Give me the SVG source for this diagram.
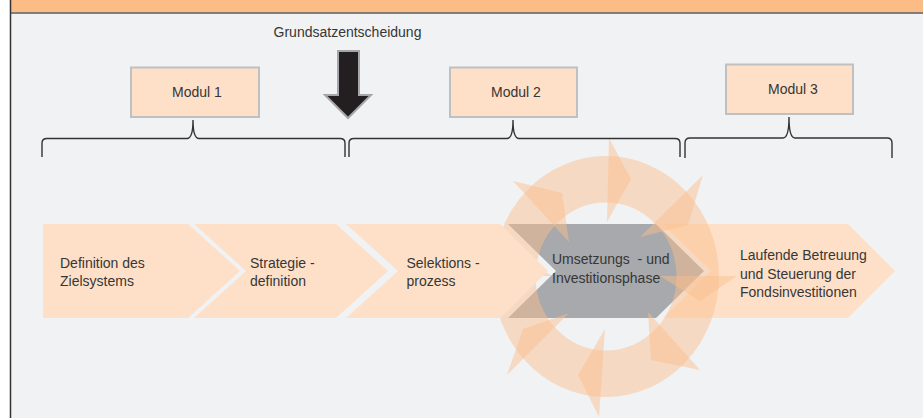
<svg xmlns="http://www.w3.org/2000/svg" width="923" height="418" viewBox="0 0 923 418">
  <defs>
    <style>
      .t { font-family: "Liberation Sans", Arial, sans-serif; font-size: 14px; fill: #363636; white-space: pre; }
      .box { fill: #FEE0C8; stroke: #BFC0C2; stroke-width: 2; }
      .chev { fill: #FEE0C8; }
      .ring { fill: #FBBE8C; fill-opacity: 0.48; }
      .brace { fill: none; stroke: #333333; stroke-width: 1.4; }
    </style>
  </defs>

  <rect x="0" y="0" width="923" height="418" fill="#FFFFFF"/>
  <rect x="10" y="13" width="913" height="405" fill="#F1F2F4"/>
  <rect x="10" y="0" width="913" height="12.5" fill="#FBBC85"/>
  <line x1="10" y1="13" x2="923" y2="13" stroke="#5A5A5A" stroke-width="1.5"/>
  <line x1="10.5" y1="0" x2="10.5" y2="418" stroke="#333333" stroke-width="1.5"/>

  <g id="chevrons-back">
    <polygon id="step4" fill="#A7A9AC" points="508,224 656,224 704,271 656,318 508,318 556,271"/>
    <polygon id="step5" class="chev" points="663,224 848,224 895,271 848,318 663,318 711,271"/>
  </g>

  <g id="cycle">
    <path class="ring" fill-rule="evenodd" d="M493,276.5 a113,120.5 0 1,0 226,0 a113,120.5 0 1,0 -226,0 Z M535.5,276.5 a70.5,74 0 1,0 141,0 a70.5,74 0 1,0 -141,0 Z"/>
    <polygon class="ring" points="513,181 562,193 569,242"/>
    <polygon class="ring" points="609,138 631,179 607,222"/>
    <polygon class="ring" points="703,175 688,225 640,237"/>
    <polygon class="ring" points="737,276 700,301 660,276"/>
    <polygon class="ring" points="700,370 651,360 648,312"/>
    <polygon class="ring" points="599,417 578,375 605,329"/>
    <polygon class="ring" points="507,375 523,329 569,313"/>
    <polygon class="ring" points="471,276 512,251 552,276"/>
  </g>

  <g id="chevrons-front">
    <polygon id="step1" class="chev" points="43,224 188,224 240,271 188,318 43,318"/>
    <polygon id="step2" class="chev" points="194,224 336,224 388,271 336,318 194,318 246,271"/>
    <polygon id="step3" class="chev" points="346,224 500,224 548,271 500,318 346,318 398,271"/>
  </g>

  <g id="connectors">
    <path class="brace" d="M42,157 L42,143 Q42,138.5 47,138.5 L187,138.5 Q193,138.5 193,120 Q193,138.5 199,138.5 L340,138.5 Q345,138.5 345,143 L345,157"/>
    <path class="brace" d="M349,157 L349,143 Q349,138.5 354,138.5 L507,138.5 Q513,138.5 513,120 Q513,138.5 519,138.5 L675,138.5 Q680,138.5 680,143 L680,157"/>
    <path class="brace" d="M685,158 L685,143 Q685,138 690,138 L783,138 Q789,138 789,117 Q789,138 795,138 L887,138 Q892,138 892,143 L892,158"/>
  </g>

  <g id="grundsatz">
    <text class="t" x="347.5" y="37" text-anchor="middle">Grundsatzentscheidung</text>
    <polygon fill="#231F20" stroke="#A4A6A9" stroke-width="2" stroke-linejoin="miter" points="338,51 359,51 359,95 371,95 348,118 325,95 338,95"/>
  </g>

  <g id="modul1">
    <rect class="box" x="131" y="67.5" width="128" height="49.5"/>
    <text class="t" x="197" y="97" text-anchor="middle">Modul 1</text>
  </g>
  <g id="modul2">
    <rect class="box" x="450" y="67.5" width="127" height="49.5"/>
    <text class="t" x="516" y="97" text-anchor="middle">Modul 2</text>
  </g>
  <g id="modul3">
    <rect class="box" x="726" y="64.5" width="127" height="49.5"/>
    <text class="t" x="793" y="94" text-anchor="middle">Modul 3</text>
  </g>

  <g id="labels">
    <text class="t" x="60" y="268">Definition des</text>
    <text class="t" x="60" y="286">Zielsystems</text>
    <text class="t" x="250" y="268">Strategie -</text>
    <text class="t" x="250" y="286">definition</text>
    <text class="t" x="406.5" y="268">Selektions -</text>
    <text class="t" x="406.5" y="286">prozess</text>
    <text class="t" x="552" y="264">Umsetzungs  - und</text>
    <text class="t" x="552" y="282.5">Investitionsphase</text>
    <text class="t" x="740" y="260">Laufende Betreuung</text>
    <text class="t" x="740" y="278.5">und Steuerung der</text>
    <text class="t" x="740" y="297">Fondsinvestitionen</text>
  </g>
</svg>
